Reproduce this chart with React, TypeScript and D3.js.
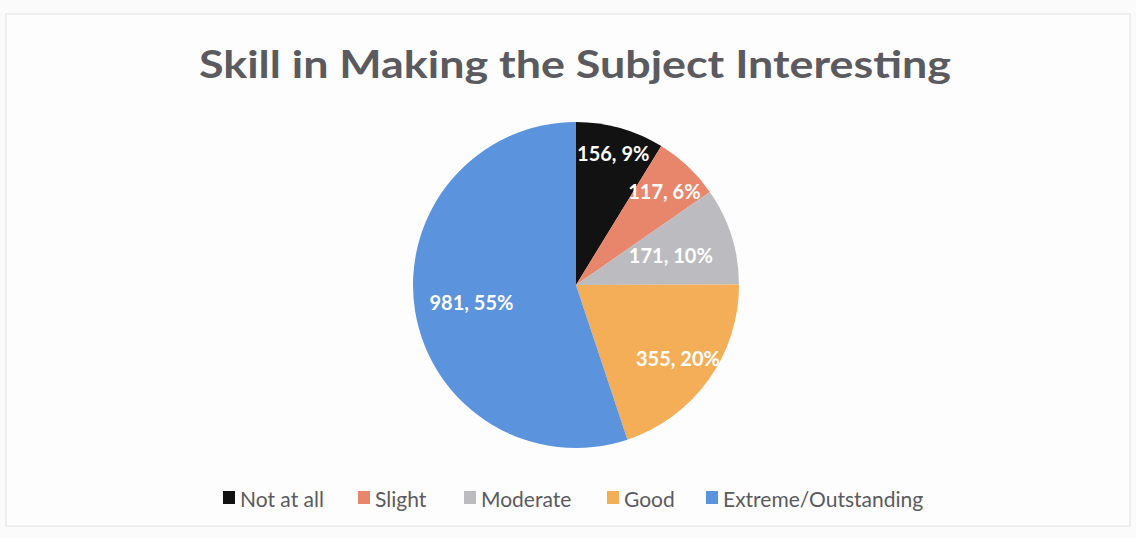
import React from "react";
import * as d3 from "d3";

const categories = ["Not at all", "Slight", "Moderate", "Good", "Extreme/Outstanding"];
const counts = [156, 117, 171, 355, 981];
const percents = ["9%", "6%", "10%", "20%", "55%"];
const colors = ["#121212", "#E8866B", "#BCBCC0", "#F5AE58", "#5B93DC"];
const title = "Skill in Making the Subject Interesting";

const W = 1136;
const H = 538;
const cx = 576;
const cy = 285;
const R = 163;

// label distance from centre as a fraction of the radius, per slice
const labelRadius = [0.84, 0.79, 0.61, 0.77, 0.65];
const legendX = [223, 358, 464, 607, 706];

export default function App() {
  const pie = d3.pie<number>().sort(null).value((d) => d);
  const arcs = pie(counts);
  const arc = d3.arc<d3.PieArcDatum<number>>().innerRadius(0).outerRadius(R);

  return (
    <svg
      width={W}
      height={H}
      style={{ position: "absolute", left: 0, top: 0, fontFamily: "Lato, 'Open Sans', sans-serif" }}
    >
      <rect x={0} y={0} width={W} height={H} fill="#fbfbfb" />
      <rect x={6} y={14} width={W - 12} height={H - 26} fill="#fdfdfd" stroke="#e2e2e2" strokeWidth={1} />
      <text x={575} y={78} textAnchor="middle" fontSize={38} fontWeight={700} fill="#5a5a5f" textLength={752} lengthAdjust="spacingAndGlyphs">
        {title}
      </text>
      <g transform={`translate(${cx},${cy})`}>
        {arcs.map((a, i) => (
          <path key={i} d={arc(a) || ""} fill={colors[i]} />
        ))}
        {arcs.map((a, i) => {
          const lr = R * labelRadius[i];
          const [x, y] = d3
            .arc<d3.PieArcDatum<number>>()
            .innerRadius(lr)
            .outerRadius(lr)
            .centroid(a);
          return (
            <text
              key={"l" + i}
              x={x}
              y={y}
              textAnchor="middle"
              dominantBaseline="central"
              fontSize={20}
              fontWeight={700}
              fill="#ffffff"
            >
              {`${counts[i]}, ${percents[i]}`}
            </text>
          );
        })}
      </g>
      <g>
        {categories.map((c, i) => (
          <g key={c} transform={`translate(${legendX[i]},498)`}>
            <rect x={0} y={-7} width={12} height={13} fill={colors[i]} />
            <text x={17} y={0} dominantBaseline="central" fontSize={21} fill="#5a5a5f">
              {c}
            </text>
          </g>
        ))}
      </g>
    </svg>
  );
}
